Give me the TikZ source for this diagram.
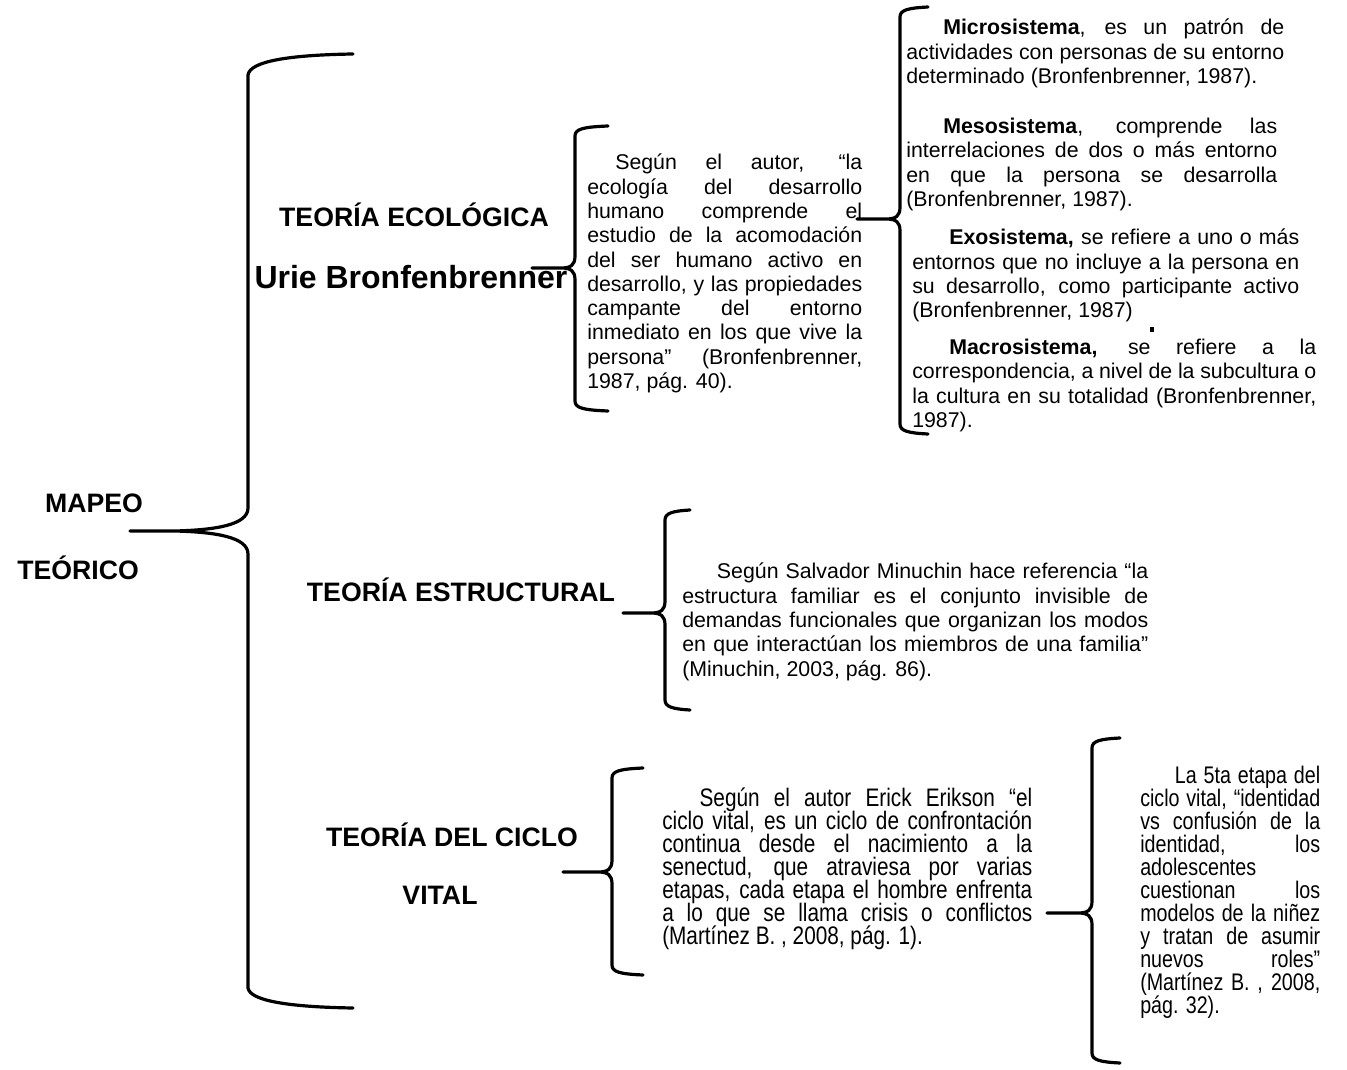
\documentclass[tikz,border=0pt]{standalone}
\usepackage{fontspec}
\setmainfont{Liberation Sans}
\newfontfamily\estrecha[FakeStretch=0.82]{Liberation Sans}
\usepackage{tikz}
\hyphenpenalty=10000
\exhyphenpenalty=10000
\newcommand{\juntas}{\lineskiplimit=-20pt\relax}

% llave: x vertical, x extremos, x punta, y arriba, y punta, y abajo, nombre
\newcommand{\llave}[7]{%
  \draw[llave] (#2,#4) .. controls (#1+8,#4+1) and (#1,#4+3) .. (#1,#4+10)
    -- (#1,#5-12) .. controls (#1,#5-3) and (#1-4,#5) .. (#1-14,#5) -- (#3,#5)
    (#1-14,#5) .. controls (#1-4,#5) and (#1,#5+3) .. (#1,#5+12)
    -- (#1,#6-10) .. controls (#1,#6-3) and (#1+8,#6-1) .. (#2,#6);
  \coordinate (#7) at (#3,#5);}

\begin{document}
\begin{tikzpicture}[x=0.75pt,y=-0.75pt,
	llave/.style={line width=2.4pt,line cap=round,line join=round},
	titulo/.style={font=\bfseries\fontsize{20}{24}\selectfont,inner sep=0pt},
	texto/.style={font=\fontsize{16}{18.2}\selectfont\sloppy,align=justify,inner sep=0pt,anchor=north west},
	estrecho/.style={texto,font=\estrecha\fontsize{19}{17.25}\selectfont\sloppy\juntas}]
	\useasboundingbox (0,0) rectangle (1347,1070);

	% titulos
	\node[titulo] (mapeo) at (94,503) {MAPEO};
	\node[titulo] (teorico) at (78,568) {TEÓRICO};
	\node[titulo] (eco) at (414,215) {TEORÍA ECOLÓGICA};
	\node[titulo,font=\bfseries\fontsize{24}{28}\selectfont] (urie) at (411,277) {Urie Bronfenbrenner};
	\node[titulo] (estr) at (461,590) {TEORÍA ESTRUCTURAL};
	\node[titulo] (ciclo) at (452,835) {TEORÍA DEL CICLO};
	\node[titulo] (vital) at (440,895) {VITAL};

	% textos
	\node[texto,text width=206.25pt] (tecol) at (587,154) {\hspace*{21pt}Según el autor, “la\linebreak ecología del desarrollo\linebreak humano comprende el\linebreak estudio de la acomodación\linebreak del ser humano activo en\linebreak desarrollo, y las propiedades\linebreak campante del entorno\linebreak inmediato en los que vive la\linebreak persona” (Bronfenbrenner,\linebreak 1987, pág. 40).};
	\node[texto,text width=283.5pt] (micro) at (906,19) {\hspace*{27.75pt}\textbf{Microsistema}, es un patrón de\linebreak actividades con personas de su entorno\linebreak determinado (Bronfenbrenner, 1987).};
	\node[texto,text width=278.25pt] (meso) at (906,118) {\hspace*{27.75pt}\textbf{Mesosistema}, comprende las\linebreak interrelaciones de dos o más entorno\linebreak en que la persona se desarrolla\linebreak (Bronfenbrenner, 1987).};
	\node[texto,text width=290.25pt] (exo) at (912,229) {\hspace*{27.75pt}\textbf{Exosistema,} se refiere a uno o más\linebreak entornos que no incluye a la persona en\linebreak su desarrollo, como participante activo\linebreak (Bronfenbrenner, 1987)};
	\node[texto,text width=303pt] (macro) at (912,339) {\hspace*{27.75pt}\textbf{Macrosistema,} se refiere a la\linebreak correspondencia, a nivel de la subcultura o\linebreak la cultura en su totalidad (Bronfenbrenner,\linebreak 1987).};
	\fill (1150,327) rectangle (1154,332);
	\node[texto,text width=349.5pt] (testr) at (682,563) {\hspace*{26pt}Según Salvador Minuchin hace referencia “la\linebreak estructura familiar es el conjunto invisible de\linebreak demandas funcionales que organizan los modos\linebreak en que interactúan los miembros de una familia”\linebreak (Minuchin, 2003, pág. 86).};
	\node[estrecho,text width=277.5pt] (tciclo) at (662,788) {\hspace*{28pt}Según el autor Erick Erikson “el\linebreak ciclo vital, es un ciclo de confrontación\linebreak continua desde el nacimiento a la\linebreak senectud, que atraviesa por varias\linebreak etapas, cada etapa el hombre enfrenta\linebreak a lo que se llama crisis o conflictos\linebreak (Martínez B. , 2008, pág. 1).};
	\node[estrecho,text width=135pt,font=\estrecha\fontsize{18}{17.25}\selectfont\sloppy\juntas] (tetapa) at (1140,766) {\hspace*{26pt}La 5ta etapa del\linebreak ciclo vital, “identidad\linebreak vs confusión de la\linebreak identidad, los\linebreak adolescentes\linebreak cuestionan los\linebreak modelos de la niñez\linebreak y tratan de asumir\linebreak nuevos roles”\linebreak (Martínez B. , 2008,\linebreak pág. 32).};

	% llaves
	\draw[llave] (353,54) .. controls (290,55) and (250,61) .. (248,75) -- (248,508)
		.. controls (248,525) and (215,530) .. (175,531) -- (130,531)
		(175,531) .. controls (215,532) and (248,537) .. (248,554) -- (248,988)
		.. controls (250,1001) and (290,1007) .. (353,1008);
	\coordinate (pmapeo) at (130,531);
	\llave{575}{608}{532}{126}{268}{411}{peco}
	\llave{900}{928}{857}{7}{219}{434}{psis}
	\llave{665}{690}{623}{510}{613}{710}{pestr}
	\llave{612}{643}{563}{768}{872}{975}{pciclo}
	\llave{1092}{1120}{1047}{738}{913}{1063}{petapa}
\end{tikzpicture}
\end{document}
